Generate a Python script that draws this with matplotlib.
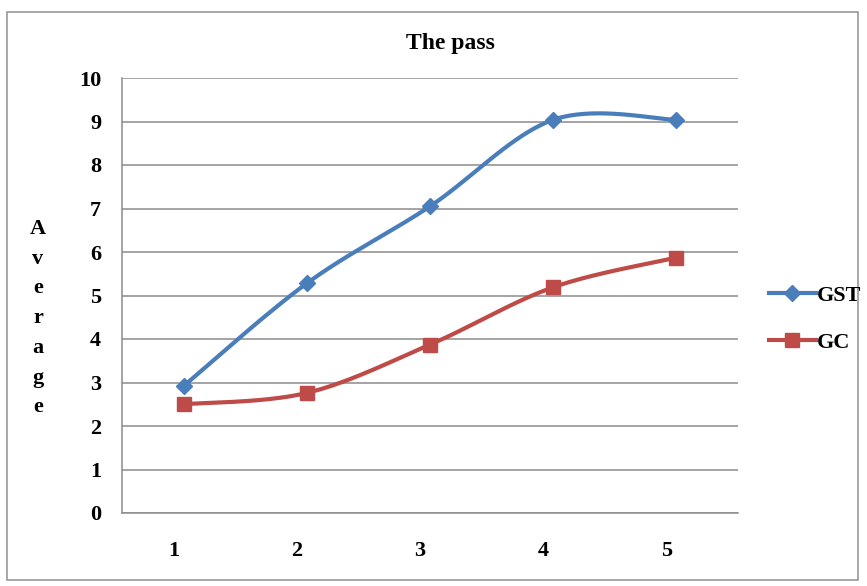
import matplotlib
matplotlib.use("Agg")
import matplotlib.pyplot as plt
import matplotlib.transforms as mtransforms
from matplotlib.patches import Rectangle
import numpy as np

# average pass score per group
sessions = [1, 2, 3, 4, 5]
gst = [2.92, 5.28, 7.05, 9.04, 9.04]
gc = [2.50, 2.76, 3.87, 5.19, 5.87]

BLUE = "#4a7ebb"
RED = "#be4b48"
GRID = "#8c8c8c"


def smooth(x, y, n=40):
    # bezier curve through every point, spreadsheet style (1/6 tangents)
    p = np.column_stack([x, y]).astype(float)
    p = np.vstack([p[0], p, p[-1]])
    out = []
    for i in range(1, len(p) - 2):
        p0, p1, p2, p3 = p[i - 1], p[i], p[i + 1], p[i + 2]
        c1 = p1 + (p2 - p0) / 6.0
        c2 = p2 - (p3 - p1) / 6.0
        t = np.linspace(0, 1, n)[:, None]
        seg = ((1 - t) ** 3) * p1 + 3 * ((1 - t) ** 2) * t * c1 + 3 * (1 - t) * t ** 2 * c2 + t ** 3 * p2
        out.append(seg if i == 1 else seg[1:])
    out = np.vstack(out)
    return out[:, 0], out[:, 1]


plt.rcParams['font.family'] = ['Liberation Serif', 'DejaVu Serif']
plt.rcParams['font.weight'] = 'bold'

fig = plt.figure(figsize=(8.67, 5.86), dpi=100)
ax = fig.add_axes([122 / 867, 1 - 513 / 586, (738 - 122) / 867, (513 - 78) / 586])

for ys, col, mk, ms, name in [(gst, BLUE, 'D', 8.5, 'GST'), (gc, RED, 's', 10, 'GC')]:
    sx, sy = smooth(sessions, ys)
    ax.plot(sx, sy, color=col, lw=3.0, solid_capstyle='round', zorder=3)
    ax.plot(sessions, ys, ls='none', marker=mk, ms=ms, color=col, zorder=4)
    ax.plot([], [], color=col, lw=3.0, marker=mk, ms=ms, label=name)

ax.set_xlim(0.5, 5.5)
ax.set_ylim(0, 10)
ax.set_yticks(range(0, 11))
ax.set_xticks(sessions)
ax.grid(axis='y', color=GRID, lw=1.1)
ax.set_axisbelow(True)
for s in ['top', 'right']:
    ax.spines[s].set_visible(False)
for s in ['left', 'bottom']:
    ax.spines[s].set_color(GRID)
    ax.spines[s].set_linewidth(1.1)
ax.tick_params(length=0)
ax.tick_params(axis='y', labelsize=16, pad=15)
ax.tick_params(axis='x', labelsize=16, pad=20)
shift = mtransforms.ScaledTranslation(-10 / 100, 0, fig.dpi_scale_trans)
for lbl in ax.get_xticklabels():
    lbl.set_transform(lbl.get_transform() + shift)
for lbl in ax.get_xticklabels() + ax.get_yticklabels():
    lbl.set_fontweight('bold')

fig.text(450 / 867, 1 - 43 / 586, "The pass", ha='center', va='center',
         fontsize=17, fontweight='bold')
fig.text(38 / 867, 1 - 318 / 586, "A\nv\ne\nr\na\ng\ne", ha='center', va='center',
         fontsize=16, fontweight='bold', linespacing=1.65)

leg = fig.legend(loc='center left', bbox_to_anchor=(769 / 867, 1 - 319 / 586),
                 frameon=False, handlelength=2.1, handletextpad=0.05,
                 labelspacing=1.2, borderpad=0, borderaxespad=0,
                 prop={'weight': 'bold', 'size': 16})

fig.patches.append(Rectangle((7 / 867, 1 - 580 / 586), (858 - 7) / 867, (580 - 12) / 586,
                             transform=fig.transFigure, fill=False, ec='#9a9a9a', lw=1.2))

fig.savefig("out.png", dpi=100, facecolor='white')
